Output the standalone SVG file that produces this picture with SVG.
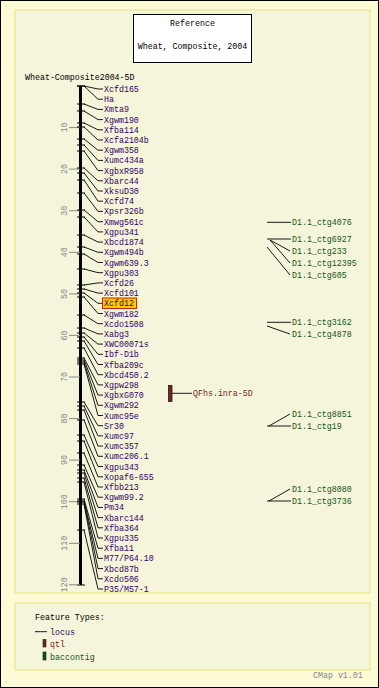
<svg xmlns="http://www.w3.org/2000/svg" width="379" height="688" viewBox="0 0 379 688">
<style>
text{font-family:"Liberation Mono","DejaVu Sans Mono",monospace;font-size:8.3px}
.loc text{fill:#330066}
.ctg text{fill:#115511}
.qtl text{fill:#7a1f1f}
.tk{stroke:#000;stroke-width:1}
.sc{stroke:#888;stroke-width:1}
.scl{fill:#888;font-size:8px}
.cn path,.cn line{fill:none;stroke:#000;stroke-width:0.9}
.panel{fill:#f5f5dc;stroke:#ecec9c;stroke-width:1.5}
</style>
<rect x="0.5" y="0.5" width="378" height="687" fill="#fdfbd6" stroke="#000" stroke-width="1"/>
<rect class="panel" x="15" y="10" width="355" height="583"/>
<rect class="panel" x="15" y="603" width="355" height="67"/>

<g id="title">
<rect x="133.5" y="14.5" width="118" height="48" fill="#fff" stroke="#000"/>
<text x="192.5" y="25.5" text-anchor="middle">Reference</text>
<text x="192.5" y="48.5" text-anchor="middle">Wheat, Composite, 2004</text>
</g>
<text x="25" y="80" fill="#000">Wheat-Composite2004-5D</text>

<g id="axis">
<line x1="80.5" y1="86" x2="80.5" y2="585" stroke="#000" stroke-width="3"/>
<line class="tk" x1="77" y1="86" x2="85" y2="86"/>
<line class="tk" x1="77" y1="585" x2="85" y2="585"/>
<g class="sc">
<line x1="69" y1="127.6" x2="80" y2="127.6"/><line x1="69" y1="169.1" x2="80" y2="169.1"/>
<line x1="69" y1="210.7" x2="80" y2="210.7"/><line x1="69" y1="252.3" x2="80" y2="252.3"/>
<line x1="69" y1="293.9" x2="80" y2="293.9"/><line x1="69" y1="335.4" x2="80" y2="335.4"/>
<line x1="69" y1="377" x2="80" y2="377"/><line x1="69" y1="418.6" x2="80" y2="418.6"/>
<line x1="69" y1="460.1" x2="80" y2="460.1"/><line x1="69" y1="501.7" x2="80" y2="501.7"/>
<line x1="69" y1="543.3" x2="80" y2="543.3"/><line x1="69" y1="584.8" x2="80" y2="584.8"/>
</g>
<g class="scl" text-anchor="middle">
<text transform="translate(67,127.6) rotate(-90)">10</text>
<text transform="translate(67,169.1) rotate(-90)">20</text>
<text transform="translate(67,210.7) rotate(-90)">30</text>
<text transform="translate(67,252.3) rotate(-90)">40</text>
<text transform="translate(67,293.9) rotate(-90)">50</text>
<text transform="translate(67,335.4) rotate(-90)">60</text>
<text transform="translate(67,377) rotate(-90)">70</text>
<text transform="translate(67,418.6) rotate(-90)">80</text>
<text transform="translate(67,460.1) rotate(-90)">90</text>
<text transform="translate(67,501.7) rotate(-90)">100</text>
<text transform="translate(67,543.3) rotate(-90)">110</text>
<text transform="translate(67,584.8) rotate(-90)">120</text>
</g>
</g>

<g id="connectors" class="cn">
<path d="M84,86 L98,89 L103,89"/>
<path d="M84,86 L98,99.2 L103,99.2"/>
<path d="M84,104 L98,109.4 L103,109.4"/>
<path d="M84,111 L98,119.6 L103,119.6"/>
<path d="M84,123 L98,129.8 L103,129.8"/>
<path d="M84,127 L98,140 L103,140"/>
<path d="M84,139 L98,150.2 L103,150.2"/>
<path d="M84,145 L98,160.4 L103,160.4"/>
<path d="M84,151 L98,170.6 L103,170.6"/>
<path d="M84,168 L98,180.8 L103,180.8"/>
<path d="M84,173 L98,191 L103,191"/>
<path d="M84,180 L98,201.2 L103,201.2"/>
<path d="M84,193 L98,211.4 L103,211.4"/>
<path d="M84,210 L98,221.7 L103,221.7"/>
<path d="M84,217 L98,231.9 L103,231.9"/>
<path d="M84,235 L98,242.1 L103,242.1"/>
<path d="M84,247 L98,252.3 L103,252.3"/>
<path d="M84,254 L98,262.5 L103,262.5"/>
<path d="M84,269 L98,272.7 L103,272.7"/>
<path d="M84,285 L98,282.9 L103,282.9"/>
<path d="M84,289 L98,293.1 L103,293.1"/>
<path d="M84,293 L98,303.3 L102,303.3"/>
<path d="M84,297 L98,313.5 L103,313.5"/>
<path d="M84,315 L98,323.7 L103,323.7"/>
<path d="M84,328 L98,333.9 L103,333.9"/>
<path d="M84,333 L98,344.1 L103,344.1"/>
<path d="M84,337 L98,354.3 L103,354.3"/>
<path d="M84,341 L98,364.5 L103,364.5"/>
<path d="M84,348 L98,374.7 L103,374.7"/>
<path d="M84,358 L98,384.9 L103,384.9"/>
<path d="M84,360 L98,395.1 L103,395.1"/>
<path d="M84,362 L98,405.3 L103,405.3"/>
<path d="M84,364 L98,415.5 L103,415.5"/>
<path d="M84,402 L98,425.7 L103,425.7"/>
<path d="M84,406 L98,435.9 L103,435.9"/>
<path d="M84,410 L98,446.1 L103,446.1"/>
<path d="M84,420 L98,456.3 L103,456.3"/>
<path d="M84,435 L98,466.5 L103,466.5"/>
<path d="M84,441 L98,476.8 L103,476.8"/>
<path d="M84,453 L98,487 L103,487"/>
<path d="M84,465 L98,497.2 L103,497.2"/>
<path d="M84,470 L98,507.4 L103,507.4"/>
<path d="M84,473 L98,517.6 L103,517.6"/>
<path d="M84,478 L98,527.8 L103,527.8"/>
<path d="M84,482 L98,538 L103,538"/>
<path d="M84,499 L98,548.2 L103,548.2"/>
<path d="M84,501 L98,558.4 L103,558.4"/>
<path d="M84,502 L98,568.6 L103,568.6"/>
<path d="M84,504 L98,578.8 L103,578.8"/>
<path d="M84,530 L98,589 L103,589"/>
<line x1="172" y1="393.3" x2="192" y2="393.3"/>
<path d="M267,222.3 L291,222.3"/>
<path d="M267,239 L291,239"/>
<path d="M270,240 L290,251"/>
<path d="M270,240 L290,263"/>
<path d="M267,247 L290,275"/>
<path d="M267,322.3 L291,322.3"/>
<path d="M267,326 L290,334"/>
<path d="M269,426 L283,418 L290,414"/>
<path d="M267,426 L291,426"/>
<path d="M269,501 L283,493 L290,489"/>
<path d="M267,501 L291,501"/>
</g>

<g class="loc">
<g id="m1"><line class="tk" x1="77" y1="86" x2="85" y2="86"/><text x="104" y="92">Xcfd165</text></g>
<g id="m2"><text x="104" y="102.2">Ha</text></g>
<g id="m3"><line class="tk" x1="77" y1="104" x2="85" y2="104"/><text x="104" y="112.4">Xmta9</text></g>
<g id="m4"><line class="tk" x1="77" y1="111" x2="85" y2="111"/><text x="104" y="122.6">Xgwm190</text></g>
<g id="m5"><line class="tk" x1="77" y1="123" x2="85" y2="123"/><text x="104" y="132.8">Xfba114</text></g>
<g id="m6"><line class="tk" x1="77" y1="127" x2="85" y2="127"/><text x="104" y="143">Xcfa2104b</text></g>
<g id="m7"><line class="tk" x1="77" y1="139" x2="85" y2="139"/><text x="104" y="153.2">Xgwm358</text></g>
<g id="m8"><line class="tk" x1="77" y1="145" x2="85" y2="145"/><text x="104" y="163.4">Xumc434a</text></g>
<g id="m9"><line class="tk" x1="77" y1="151" x2="85" y2="151"/><text x="104" y="173.6">XgbxR958</text></g>
<g id="m10"><line class="tk" x1="77" y1="168" x2="85" y2="168"/><text x="104" y="183.8">Xbarc44</text></g>
<g id="m11"><line class="tk" x1="77" y1="173" x2="85" y2="173"/><text x="104" y="194">XksuD30</text></g>
<g id="m12"><line class="tk" x1="77" y1="180" x2="85" y2="180"/><text x="104" y="204.2">Xcfd74</text></g>
<g id="m13"><line class="tk" x1="77" y1="193" x2="85" y2="193"/><text x="104" y="214.4">Xpsr326b</text></g>
<g id="m14"><line class="tk" x1="77" y1="210" x2="85" y2="210"/><text x="104" y="224.7">Xmwg561c</text></g>
<g id="m15"><line class="tk" x1="77" y1="217" x2="85" y2="217"/><text x="104" y="234.9">Xgpu341</text></g>
<g id="m16"><line class="tk" x1="77" y1="235" x2="85" y2="235"/><text x="104" y="245.1">Xbcd1874</text></g>
<g id="m17"><line class="tk" x1="77" y1="247" x2="85" y2="247"/><text x="104" y="255.3">Xgwm494b</text></g>
<g id="m18"><line class="tk" x1="77" y1="254" x2="85" y2="254"/><text x="104" y="265.5">Xgwm639.3</text></g>
<g id="m19"><line class="tk" x1="77" y1="269" x2="85" y2="269"/><text x="104" y="275.7">Xgpu303</text></g>
<g id="m20"><line class="tk" x1="77" y1="285" x2="85" y2="285"/><text x="104" y="285.9">Xcfd26</text></g>
<g id="m21"><line class="tk" x1="77" y1="289" x2="85" y2="289"/><text x="104" y="296.1">Xcfd101</text></g>
<g id="m22"><line class="tk" x1="77" y1="293" x2="85" y2="293"/><rect x="102.5" y="298" width="34" height="10.5" fill="#ffcc00" stroke="#cc2200"/><text x="104" y="306.3">Xcfd12</text></g>
<g id="m23"><line class="tk" x1="77" y1="297" x2="85" y2="297"/><text x="104" y="316.5">Xgwm182</text></g>
<g id="m24"><line class="tk" x1="77" y1="315" x2="85" y2="315"/><text x="104" y="326.7">Xcdo1508</text></g>
<g id="m25"><line class="tk" x1="77" y1="328" x2="85" y2="328"/><text x="104" y="336.9">Xabg3</text></g>
<g id="m26"><line class="tk" x1="77" y1="333" x2="85" y2="333"/><text x="104" y="347.1">XWC00071s</text></g>
<g id="m27"><line class="tk" x1="77" y1="337" x2="85" y2="337"/><text x="104" y="357.3">Ibf-D1b</text></g>
<g id="m28"><line class="tk" x1="77" y1="341" x2="85" y2="341"/><text x="104" y="367.5">Xfba209c</text></g>
<g id="m29"><line class="tk" x1="77" y1="348" x2="85" y2="348"/><text x="104" y="377.7">Xbcd450.2</text></g>
<g id="m30"><line class="tk" x1="77" y1="358" x2="85" y2="358"/><text x="104" y="387.9">Xgpw298</text></g>
<g id="m31"><line class="tk" x1="77" y1="360" x2="85" y2="360"/><text x="104" y="398.1">XgbxG070</text></g>
<g id="m32"><line class="tk" x1="77" y1="362" x2="85" y2="362"/><text x="104" y="408.3">Xgwm292</text></g>
<g id="m33"><line class="tk" x1="77" y1="364" x2="85" y2="364"/><text x="104" y="418.5">Xumc95e</text></g>
<g id="m34"><line class="tk" x1="77" y1="402" x2="85" y2="402"/><text x="104" y="428.7">Sr30</text></g>
<g id="m35"><line class="tk" x1="77" y1="406" x2="85" y2="406"/><text x="104" y="438.9">Xumc97</text></g>
<g id="m36"><line class="tk" x1="77" y1="410" x2="85" y2="410"/><text x="104" y="449.1">Xumc357</text></g>
<g id="m37"><line class="tk" x1="77" y1="420" x2="85" y2="420"/><text x="104" y="459.3">Xumc206.1</text></g>
<g id="m38"><line class="tk" x1="77" y1="435" x2="85" y2="435"/><text x="104" y="469.5">Xgpu343</text></g>
<g id="m39"><line class="tk" x1="77" y1="441" x2="85" y2="441"/><text x="104" y="479.8">Xopaf6-655</text></g>
<g id="m40"><line class="tk" x1="77" y1="453" x2="85" y2="453"/><text x="104" y="490">Xfbb213</text></g>
<g id="m41"><line class="tk" x1="77" y1="465" x2="85" y2="465"/><text x="104" y="500.2">Xgwm99.2</text></g>
<g id="m42"><line class="tk" x1="77" y1="470" x2="85" y2="470"/><text x="104" y="510.4">Pm34</text></g>
<g id="m43"><line class="tk" x1="77" y1="473" x2="85" y2="473"/><text x="104" y="520.6">Xbarc144</text></g>
<g id="m44"><line class="tk" x1="77" y1="478" x2="85" y2="478"/><text x="104" y="530.8">Xfba364</text></g>
<g id="m45"><line class="tk" x1="77" y1="482" x2="85" y2="482"/><text x="104" y="541">Xgpu335</text></g>
<g id="m46"><line class="tk" x1="77" y1="499" x2="85" y2="499"/><text x="104" y="551.2">Xfba11</text></g>
<g id="m47"><line class="tk" x1="77" y1="501" x2="85" y2="501"/><text x="104" y="561.4">M77/P64.10</text></g>
<g id="m48"><line class="tk" x1="77" y1="502" x2="85" y2="502"/><text x="104" y="571.6">Xbcd87b</text></g>
<g id="m49"><line class="tk" x1="77" y1="504" x2="85" y2="504"/><text x="104" y="581.8">Xcdo506</text></g>
<g id="m50"><line class="tk" x1="77" y1="530" x2="85" y2="530"/><text x="104" y="592">P35/M57-1</text></g>
</g>

<g id="qtl1" class="qtl">
<rect x="168.5" y="385.5" width="3.5" height="16" fill="#6b2626" stroke="#3a1010" stroke-width="0.8"/>
<text x="193" y="396.3">QFhs.inra-5D</text>
</g>

<g class="ctg">
<g id="c1"><text x="292" y="225.3">D1.1_ctg4076</text></g>
<g id="c2"><text x="292" y="242">D1.1_ctg6927</text></g>
<g id="c3"><text x="292" y="254">D1.1_ctg233</text></g>
<g id="c4"><text x="292" y="266">D1.1_ctg12395</text></g>
<g id="c5"><text x="292" y="278">D1.1_ctg605</text></g>
<g id="c6"><text x="292" y="325.3">D1.1_ctg3162</text></g>
<g id="c7"><text x="292" y="337">D1.1_ctg4878</text></g>
<g id="c8"><text x="292" y="417">D1.1_ctg8851</text></g>
<g id="c9"><text x="292" y="429">D1.1_ctg19</text></g>
<g id="c10"><text x="292" y="492">D1.1_ctg8080</text></g>
<g id="c11"><text x="292" y="504">D1.1_ctg3736</text></g>
</g>

<g id="legend">
<text x="35" y="620" fill="#000">Feature Types:</text>
<line x1="35" y1="631.7" x2="47" y2="631.7" stroke="#330066"/>
<text x="50" y="634.5" fill="#330066">locus</text>
<rect x="43" y="639.5" width="3" height="7.5" fill="#6b2626" stroke="#3a1010" stroke-width="0.6"/>
<text x="50" y="646.5" fill="#7a1f1f">qtl</text>
<rect x="43" y="652" width="3" height="8" fill="#1a4d1a" stroke="#0a2a0a" stroke-width="0.6"/>
<text x="50" y="660" fill="#115511">baccontig</text>
<text x="313" y="677.5" fill="#888">CMap v1.01</text>
</g>
</svg>
